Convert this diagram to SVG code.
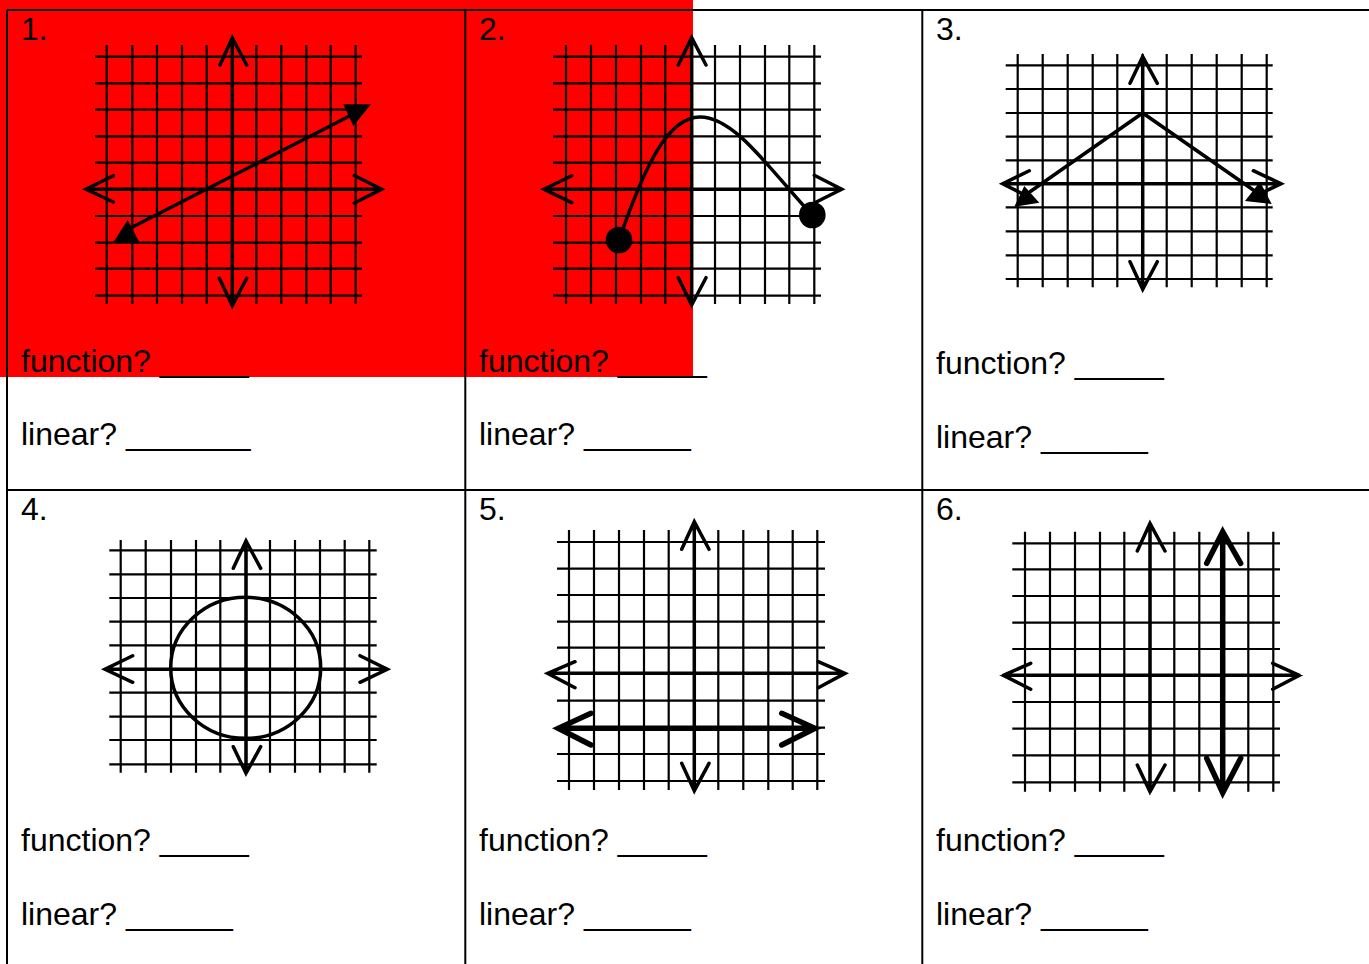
<svg xmlns="http://www.w3.org/2000/svg" width="1369" height="964" viewBox="0 0 1369 964">
<style>
.bg{fill:#fff}
.hl{fill:#ff0000}
.border{stroke:#000;stroke-width:2;fill:none}
.grid{stroke:#000;stroke-width:2.2;fill:none}
.axis{stroke:#000;stroke-width:3.5;fill:none;stroke-linecap:round;stroke-linejoin:miter}
.thick{stroke:#000;stroke-width:5.5;fill:none;stroke-linecap:round;stroke-linejoin:miter}
.solid{fill:#000;stroke:none}
.t{font-family:"Liberation Sans",Arial,sans-serif;font-size:32px;fill:#000}
</style>
<rect class="bg" x="0" y="0" width="1369" height="964"/>
<rect id="highlight" class="hl" x="0" y="0" width="693" height="377"/>
<g id="table">
<path class="border" d="M7,10 H1369 M7,10 V964 M465.3,10 V964 M922.3,10 V964 M7,490 H1369"/>
</g>
<g id="panel-1">
<text class="t" x="21" y="40">1.</text>
<path class="grid" d="M106.7,45V304M132.3,45V304M157,45V304M182,45V304M206.7,45V304M232.3,45V304M256.3,45V304M281.3,45V304M306.3,45V304M330.7,45V304M355.7,45V304M95,56.7H362M95,83.3H362M95,109.7H362M95,136.3H362M95,162.7H362M95,189.3H362M95,216H362M95,242.7H362M95,268.7H362M95,295.7H362"/>
<path class="axis" d="M232.3,38V305.5M220,65L232.3,38L246.7,65M219.3,278.3L232.3,305.5L246.7,278.3M86,189.3H381.7M113.3,175.7L86,189.3L113.3,202M354.3,175.5L381.7,189.3L354.3,203"/>
<path class="axis" d="M126.7,230L355,113.3"/>
<polygon class="solid" points="113.3,242.3 127.7,220 139.3,242.3"/>
<polygon class="solid" points="343.3,104.3 371,104.3 353.3,126"/>
<text class="t" x="21" y="372">function? _____</text>
<text class="t" x="21" y="445">linear? _______</text>
</g>
<g id="panel-2">
<text class="t" x="479" y="40">2.</text>
<path class="grid" d="M566,45V304M591,45V304M616,45V304M641,45V304M665.3,45V304M691.7,45V304M715,45V304M740,45V304M765,45V304M789.3,45V304M814.3,45V304M553,56.7H821M553,83.3H821M553,109.7H821M553,136.3H821M553,162.7H821M553,189.3H821M553,216H821M553,242.7H821M553,268.7H821M553,295.7H821"/>
<path class="axis" d="M691.7,37.7V305M678.3,65L691.7,37.7L706,65M678.3,277.7L691.7,305L706,277.7M544,189.3H841.7M571.7,175.7L544,189.3L571.7,202.7M814.3,175.3L841.7,189.3L814.3,203"/>
<path class="axis" d="M619,240C645,165 668,117 700,117C735,117 770,170 812,215"/>
<circle class="solid" cx="619" cy="240" r="13.3"/>
<circle class="solid" cx="812.3" cy="215" r="13.3"/>
<text class="t" x="479" y="372">function? _____</text>
<text class="t" x="479" y="445">linear? ______</text>
</g>
<g id="panel-3">
<text class="t" x="936" y="40">3.</text>
<path class="grid" d="M1017.7,54V287.3M1042.7,54V287.3M1067.7,54V287.3M1092.7,54V287.3M1117.3,54V287.3M1142.7,54V287.3M1166.7,54V287.3M1191.7,54V287.3M1216.7,54V287.3M1241.7,54V287.3M1266.7,54V287.3M1005.7,65.3H1272.7M1005.7,89H1272.7M1005.7,113H1272.7M1005.7,136.7H1272.7M1005.7,160.3H1272.7M1005.7,183.7H1272.7M1005.7,207.3H1272.7M1005.7,231.3H1272.7M1005.7,255.3H1272.7M1005.7,279H1272.7"/>
<path class="axis" d="M1142.7,56.7V289.3M1130,83.3L1142.7,56.7L1157.3,83.3M1130,261.7L1142.7,289.3L1157.3,261.7M1002.7,183.7H1281M1029.3,170.7L1002.7,183.7L1029.3,197.3M1253.3,170.7L1281,183.7L1253.3,197"/>
<path class="axis" d="M1030,191.7L1142.7,113L1253.3,190"/>
<polygon class="solid" points="1014.3,206.7 1024.3,186 1039.3,202.7"/>
<polygon class="solid" points="1245,201 1260,181.7 1271.7,204"/>
<text class="t" x="936" y="374">function? _____</text>
<text class="t" x="936" y="448">linear? ______</text>
</g>
<g id="panel-4">
<text class="t" x="21" y="520">4.</text>
<path class="grid" d="M120.7,540V772.7M145.7,540V772.7M171,540V772.7M196,540V772.7M220.3,540V772.7M246,540V772.7M270,540V772.7M295,540V772.7M320,540V772.7M344.7,540V772.7M369.3,540V772.7M109.3,550.3H376.7M109.3,574.3H376.7M109.3,598H376.7M109.3,621.7H376.7M109.3,645.3H376.7M109.3,669.3H376.7M109.3,692.7H376.7M109.3,716.7H376.7M109.3,740H376.7M109.3,764.3H376.7"/>
<path class="axis" d="M246,541V773.3M233.3,568.3L246,541L260.7,568.3M233.3,746.7L246,773.3L260.7,746.7M105,669.3H387.3M132.7,655.7L105,669.3L132.7,682.3M360,655.7L387.3,669.3L360,682.3"/>
<ellipse class="axis" cx="245.7" cy="667.8" rx="75" ry="70.5"/>
<text class="t" x="21" y="851">function? _____</text>
<text class="t" x="21" y="925">linear? ______</text>
</g>
<g id="panel-5">
<text class="t" x="479" y="520">5.</text>
<path class="grid" d="M569,530V790M594,530V790M619,530V790M644,530V790M668.7,530V790M694.3,530V790M718.3,530V790M743.3,530V790M768.3,530V790M792.7,530V790M817.3,530V790M557,542H825M557,568.7H825M557,595H825M557,621.7H825M557,647.7H825M557,673.3H825M557,700.7H825M557,727.7H825M557,754H825M557,781H825"/>
<path class="axis" d="M694.3,521.7V790.7M681.7,549.3L694.3,521.7L709,549.3M681.7,763.3L694.3,790.7L709,763.3M547.7,673.3H845M575,661.7L547.7,673.3L575,687.7M818.3,661.7L845,673.3L818.3,687.7"/>
<path class="thick" d="M558.3,728.3H815M591,713.3L558.3,728.3L591,745M781.7,713.3L815,728.3L781.7,745"/>
<text class="t" x="479" y="851">function? _____</text>
<text class="t" x="479" y="925">linear? ______</text>
</g>
<g id="panel-6">
<text class="t" x="936" y="520">6.</text>
<path class="grid" d="M1025,531.7V791.7M1050,531.7V791.7M1075,531.7V791.7M1100,531.7V791.7M1124.3,531.7V791.7M1150,531.7V791.7M1174.3,531.7V791.7M1199.3,531.7V791.7M1222.7,531.7V791.7M1248.3,531.7V791.7M1273.3,531.7V791.7M1012.3,543.3H1280M1012.3,569.3H1280M1012.3,596H1280M1012.3,622.7H1280M1012.3,649H1280M1012.3,675.3H1280M1012.3,702H1280M1012.3,728.7H1280M1012.3,755.3H1280M1012.3,782.3H1280"/>
<path class="axis" d="M1150,523.3V791.7M1137.3,551L1150,523.3L1165,551M1137.3,765L1150,791.7L1165,765M1003.3,675.3H1299.3M1030.7,663.3L1003.3,675.3L1030.7,689.3M1272.7,663.3L1299.3,675.3L1272.7,689.3"/>
<path class="thick" d="M1222.7,531.7V792.7M1206.7,563.3L1222.7,531.7L1240.7,563.3M1206.7,758.3L1222.7,792.7L1240.7,758.3"/>
<text class="t" x="936" y="851">function? _____</text>
<text class="t" x="936" y="925">linear? ______</text>
</g>
</svg>
